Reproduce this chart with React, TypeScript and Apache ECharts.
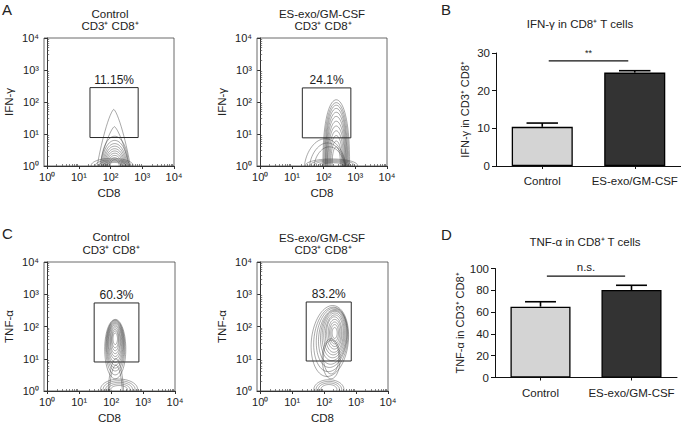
import React, { useEffect, useRef } from "react";
import * as echarts from "echarts";

// ---------- data ----------
const decadeTicks = [0, 1, 2, 3, 4];
const decadeLabels = ["10⁰", "10¹", "10²", "10³", "10⁴"];
const minorMultipliers = [2, 3, 4, 5, 6, 7, 8, 9];

const flowGroups = ["Control", "ES-exo/GM-CSF"];
const flowSubtitle = "CD3⁺ CD8⁺";
const flowXName = "CD8";
const ifnName = "IFN-γ";
const tnfName = "TNF-α";

// gates: [xmin, xmax, ymin, ymax] in log10 units
const ifnGates = [[1.35, 2.87, 0.89, 2.45], [1.33, 2.86, 0.88, 2.44]];
const ifnGateLabels = ["11.15%", "24.1%"];
const tnfGates = [[1.47, 2.87, 0.9, 2.73], [1.44, 2.85, 0.93, 2.76]];
const tnfGateLabels = ["60.3%", "83.2%"];

// contour lines: [cx, cy, rx, ry, xPow, yPow, shear] in log10 units
const ifnControlContours = [
  [2.10, 0, 0.52, 1.77, 1.4, 1.1, 0],
  [2.12, 0, 0.47, 1.23, 1.4, 1.1, 0],
  [2.13, 0, 0.43, 0.93, 2, 2, 0],
  [2.13, 0, 0.40, 0.80, 2, 2, 0],
  [2.13, 0, 0.37, 0.70, 2, 2, 0],
  [2.13, 0, 0.34, 0.62, 2, 2, 0],
  [2.13, 0, 0.31, 0.54, 2, 2, 0],
  [2.13, 0, 0.28, 0.47, 2, 2, 0],
  [2.13, 0, 0.25, 0.40, 2, 2, 0],
  [2.13, 0, 0.22, 0.33, 2, 2, 0],
  [2.13, 0, 0.18, 0.26, 2, 2, 0],
  [2.13, 0, 0.14, 0.20, 2, 2, 0],
  [2.05, 0.02, 0.66, 0.22, 2, 2, 0],
  [2.08, 0.02, 0.56, 0.18, 2, 2, 0],
  [2.10, 0.02, 0.46, 0.15, 2, 2, 0],
  [2.12, 0.02, 0.36, 0.12, 2, 2, 0],
  [2.12, 0.02, 0.26, 0.09, 2, 2, 0],
];
const ifnTreatedContours = [
  [2.40, 0, 0.42, 2.07, 2, 2.5, 0],
  [2.40, 0, 0.39, 1.98, 2, 2.5, 0],
  [2.40, 0, 0.36, 1.90, 2, 2.5, 0],
  [2.40, 0, 0.34, 1.80, 2, 2.5, 0],
  [2.40, 0, 0.32, 1.68, 2, 2.5, 0],
  [2.40, 0, 0.30, 1.55, 2, 2.5, 0],
  [2.40, 0, 0.28, 1.40, 2, 2.5, 0],
  [2.40, 0, 0.26, 1.25, 2, 2.5, 0],
  [2.40, 0, 0.23, 1.10, 2, 2.5, 0],
  [2.40, 0, 0.20, 0.95, 2, 2.5, 0],
  [2.40, 0, 0.17, 0.78, 2, 2.5, 0],
  [2.40, 0, 0.13, 0.60, 2, 2.5, 0],
  [2.05, 0, 0.65, 0.85, 2, 1.6, 0],
  [2.12, 0, 0.56, 0.72, 2, 1.6, 0],
  [2.18, 0, 0.48, 0.60, 2, 1.6, 0],
  [2.25, 0.02, 0.82, 0.20, 2, 2, 0],
  [2.27, 0.02, 0.70, 0.17, 2, 2, 0],
  [2.28, 0.02, 0.58, 0.14, 2, 2, 0],
  [2.30, 0.02, 0.46, 0.11, 2, 2, 0],
  [2.30, 0.02, 0.34, 0.08, 2, 2, 0],
];
const tnfControlContours = [
  [2.13, 1.30, 0.33, 0.92, 2, 2, 0],
  [2.13, 1.35, 0.30, 0.85, 2, 2, 0],
  [2.13, 1.40, 0.28, 0.78, 2, 2, 0],
  [2.13, 1.43, 0.26, 0.72, 2, 2, 0],
  [2.13, 1.46, 0.24, 0.66, 2, 2, 0],
  [2.13, 1.49, 0.22, 0.60, 2, 2, 0],
  [2.13, 1.52, 0.20, 0.53, 2, 2, 0],
  [2.13, 1.54, 0.17, 0.47, 2, 2, 0],
  [2.13, 1.56, 0.15, 0.40, 2, 2, 0],
  [2.13, 1.58, 0.12, 0.33, 2, 2, 0],
  [2.13, 1.60, 0.10, 0.26, 2, 2, 0],
  [2.13, 1.62, 0.07, 0.18, 2, 2, 0],
  [2.15, 0, 0.24, 1.00, 2, 1.5, 0],
  [2.15, 0, 0.20, 0.80, 2, 1.5, 0],
  [2.25, 0.05, 0.58, 0.32, 2, 2, 0],
  [2.25, 0.05, 0.50, 0.27, 2, 2, 0],
  [2.25, 0.05, 0.42, 0.22, 2, 2, 0],
  [2.25, 0.05, 0.34, 0.17, 2, 2, 0],
  [2.25, 0.05, 0.26, 0.12, 2, 2, 0],
];
const tnfTreatedContours = [
  [2.18, 1.55, 0.58, 1.10, 2, 2, 0.08],
  [2.21, 1.60, 0.53, 1.00, 2, 2, 0.08],
  [2.24, 1.65, 0.48, 0.92, 2, 2, 0.08],
  [2.27, 1.68, 0.44, 0.85, 2, 2, 0.08],
  [2.29, 1.72, 0.40, 0.78, 2, 2, 0.06],
  [2.30, 1.75, 0.36, 0.72, 2, 2, 0.05],
  [2.31, 1.77, 0.32, 0.65, 2, 2, 0.04],
  [2.32, 1.78, 0.28, 0.58, 2, 2, 0.03],
  [2.32, 1.80, 0.24, 0.50, 2, 2, 0],
  [2.33, 1.80, 0.20, 0.42, 2, 2, 0],
  [2.33, 1.80, 0.16, 0.34, 2, 2, 0],
  [2.33, 1.80, 0.12, 0.26, 2, 2, 0],
  [2.33, 1.80, 0.08, 0.17, 2, 2, 0],
  [2.22, 1.00, 0.28, 0.62, 2, 2, 0],
  [2.22, 1.05, 0.24, 0.52, 2, 2, 0],
  [2.15, 0.05, 0.47, 0.30, 2, 2, 0],
  [2.15, 0.05, 0.40, 0.25, 2, 2, 0],
  [2.15, 0.05, 0.33, 0.20, 2, 2, 0],
  [2.15, 0.05, 0.25, 0.15, 2, 2, 0],
];

const barCategories = ["Control", "ES-exo/GM-CSF"];
const ifnMeans = [10.4, 24.8];
const ifnErrTops = [11.4, 25.3];
const tnfMeans = [65, 80.3];
const tnfErrTops = [69.5, 84.6];
const ifnSig = [0, 1, 27.9];
const ifnSigLabel = "**";
const tnfSig = [0, 1, 93];
const tnfSigLabel = "n.s.";
const ifnBarTitle = "IFN-γ in CD8⁺ T cells";
const tnfBarTitle = "TNF-α in CD8⁺ T cells";
const ifnBarYName = "IFN-γ in CD3⁺ CD8⁺";
const tnfBarYName = "TNF-α in CD3⁺ CD8⁺";
const panelLetters = ["A", "B", "C", "D"];

// ---------- styling / layout ----------
const FONT = '"Liberation Sans", Arial, Helvetica, sans-serif';
const TXT = "#222";
const barFills = ["#d4d4d4", "#333333"];

const grids = [
  { left: 44, top: 38, width: 130, height: 128 },
  { left: 257, top: 38, width: 130, height: 128 },
  { left: 44, top: 262, width: 131, height: 131 },
  { left: 257, top: 262, width: 131, height: 131 },
  { left: 496, top: 53, width: 185, height: 113 },
  { left: 495, top: 268.5, width: 182, height: 109 },
];

const minorTickValues = decadeTicks
  .slice(0, 4)
  .flatMap((k) => minorMultipliers.map((m) => k + Math.log10(m)));

function contourRender(params: any, api: any) {
  const cx = api.value(0), cy = api.value(1), rx = api.value(2), ry = api.value(3);
  const mp = api.value(4), qp = api.value(5), sh = api.value(6);
  const pts: number[][] = [];
  const N = 72;
  for (let i = 0; i <= N; i++) {
    const t = (2 * Math.PI * i) / N;
    const c = Math.cos(t), s = Math.sin(t);
    const dy = ry * Math.sign(s) * Math.pow(Math.abs(s), 2 / qp);
    const dx = rx * Math.sign(c) * Math.pow(Math.abs(c), 2 / mp) + sh * dy;
    pts.push(api.coord([cx + dx, cy + dy]));
  }
  return {
    type: "polyline",
    shape: { points: pts },
    style: { fill: "none", stroke: "rgba(60,60,60,0.68)", lineWidth: 0.65 },
  };
}

function buildOption() {
  const flowPanels = [
    { grid: 0, yName: ifnName, contours: ifnControlContours, gate: ifnGates[0], gateLabel: ifnGateLabels[0] },
    { grid: 1, yName: ifnName, contours: ifnTreatedContours, gate: ifnGates[1], gateLabel: ifnGateLabels[1] },
    { grid: 2, yName: tnfName, contours: tnfControlContours, gate: tnfGates[0], gateLabel: tnfGateLabels[0] },
    { grid: 3, yName: tnfName, contours: tnfTreatedContours, gate: tnfGates[1], gateLabel: tnfGateLabels[1] },
  ];

  const xAxis: any[] = [];
  const yAxis: any[] = [];
  const series: any[] = [];

  flowPanels.forEach((p) => {
    const label = {
      customValues: decadeTicks,
      formatter: (v: number) => decadeLabels[Math.round(v)],
      fontSize: 11,
      color: TXT,
      fontFamily: FONT,
    };
    xAxis.push({
      type: "value", gridIndex: p.grid, min: -0.1, max: 4,
      axisLine: { show: true, lineStyle: { color: "#333", width: 1 } },
      axisTick: { show: true, customValues: decadeTicks, length: 3, lineStyle: { color: "#333" } },
      axisLabel: { ...label, margin: 5 },
      splitLine: { show: false },
      name: flowXName, nameLocation: "middle", nameGap: 21,
      nameTextStyle: { fontSize: 11.5, color: TXT, fontFamily: FONT },
    });
    xAxis.push({
      type: "value", gridIndex: p.grid, min: -0.1, max: 4,
      axisLine: { show: false },
      axisTick: { show: true, customValues: minorTickValues, length: 2, lineStyle: { color: "#555", width: 0.7 } },
      axisLabel: { show: false },
      splitLine: { show: false },
    });
    yAxis.push({
      type: "value", gridIndex: p.grid, min: 0, max: 4,
      axisLine: { show: true, lineStyle: { color: "#333", width: 1 } },
      axisTick: { show: true, customValues: decadeTicks, length: 3, lineStyle: { color: "#333" } },
      axisLabel: { ...label, margin: 5 },
      splitLine: { show: false },
      name: p.yName, nameLocation: "middle", nameGap: 29,
      nameTextStyle: { fontSize: 11.5, color: TXT, fontFamily: FONT },
    });
    yAxis.push({
      type: "value", gridIndex: p.grid, min: 0, max: 4,
      axisLine: { show: false },
      axisTick: { show: true, customValues: minorTickValues, length: 2, lineStyle: { color: "#555", width: 0.7 } },
      axisLabel: { show: false },
      splitLine: { show: false },
    });
    const ai = p.grid * 2;
    series.push({
      type: "custom", xAxisIndex: ai, yAxisIndex: ai, clip: true, silent: true,
      encode: { x: 0, y: 1 },
      data: p.contours,
      renderItem: contourRender,
      z: 2,
    });
    const gl = p.gateLabel;
    series.push({
      type: "custom", xAxisIndex: ai, yAxisIndex: ai, silent: true,
      encode: { x: [0, 1], y: [2, 3] },
      data: [p.gate],
      z: 3,
      renderItem: (params: any, api: any) => {
        const tl = api.coord([api.value(0), api.value(3)]);
        const br = api.coord([api.value(1), api.value(2)]);
        return {
          type: "group",
          children: [
            {
              type: "rect",
              shape: { x: tl[0], y: tl[1], width: br[0] - tl[0], height: br[1] - tl[1] },
              style: { fill: "none", stroke: "#2a2a2a", lineWidth: 1 },
            },
            {
              type: "text",
              x: (tl[0] + br[0]) / 2,
              y: tl[1] - 2,
              style: {
                text: gl, fill: TXT, font: `12px ${FONT}`,
                align: "center", verticalAlign: "bottom",
                textAlign: "center", textVerticalAlign: "bottom",
              },
            },
          ],
        };
      },
    });
  });

  const barPanels = [
    { grid: 4, means: ifnMeans, errs: ifnErrTops, max: 30, interval: 10, yName: ifnBarYName, sig: ifnSig, sigLabel: ifnSigLabel, sigSize: 9 },
    { grid: 5, means: tnfMeans, errs: tnfErrTops, max: 100, interval: 20, yName: tnfBarYName, sig: tnfSig, sigLabel: tnfSigLabel, sigSize: 11.5 },
  ];

  barPanels.forEach((b, k) => {
    const ai = 8 + k;
    xAxis.push({
      type: "category", gridIndex: b.grid, data: barCategories,
      axisLine: { show: true, lineStyle: { color: "#111", width: 1 } },
      axisTick: { show: true, alignWithLabel: true, length: 3, lineStyle: { color: "#111" } },
      axisLabel: { interval: 0, hideOverlap: false, fontSize: 11.5, color: TXT, fontFamily: FONT, margin: 9 },
      splitLine: { show: false },
    });
    yAxis.push({
      type: "value", gridIndex: b.grid, min: 0, max: b.max, interval: b.interval,
      axisLine: { show: true, lineStyle: { color: "#111", width: 1 } },
      axisTick: { show: true, length: 4, lineStyle: { color: "#111" } },
      axisLabel: { fontSize: 11.5, color: TXT, fontFamily: FONT, margin: 6 },
      splitLine: { show: false },
      name: b.yName, nameLocation: "middle", nameGap: 26,
      nameTextStyle: { fontSize: 11, color: TXT, fontFamily: FONT },
    });
    series.push({
      type: "bar", xAxisIndex: ai, yAxisIndex: ai, barWidth: "66%", silent: true,
      data: b.means.map((v, i) => ({ value: v, itemStyle: { color: barFills[i] } })),
      itemStyle: { borderColor: "#000", borderWidth: 1.3 },
      z: 2,
    });
    series.push({
      type: "custom", xAxisIndex: ai, yAxisIndex: ai, silent: true,
      encode: { x: 0, y: 2 },
      data: b.means.map((v, i) => [i, v, b.errs[i]]),
      z: 4,
      renderItem: (params: any, api: any) => {
        const base = api.coord([api.value(0), api.value(1)]);
        const top = api.coord([api.value(0), api.value(2)]);
        const bw = api.size([1, 0])[0];
        const hw = bw * 0.17;
        return {
          type: "group",
          children: [
            { type: "line", shape: { x1: base[0], y1: base[1], x2: base[0], y2: top[1] }, style: { stroke: "#000", lineWidth: 1.6 } },
            { type: "line", shape: { x1: base[0] - hw, y1: top[1], x2: base[0] + hw, y2: top[1] }, style: { stroke: "#000", lineWidth: 1.6 } },
          ],
        };
      },
    });
    const sl = b.sigLabel, ss = b.sigSize;
    series.push({
      type: "custom", xAxisIndex: ai, yAxisIndex: ai, silent: true,
      encode: { x: 0, y: 2 },
      data: [b.sig],
      z: 4,
      renderItem: (params: any, api: any) => {
        const p0 = api.coord([api.value(0), api.value(2)]);
        const p1 = api.coord([api.value(1), api.value(2)]);
        const bw = api.size([1, 0])[0];
        const x0 = p0[0] + bw * 0.07, x1 = p1[0] - bw * 0.07;
        return {
          type: "group",
          children: [
            { type: "line", shape: { x1: x0, y1: p0[1], x2: x1, y2: p0[1] }, style: { stroke: "#111", lineWidth: 1.1 } },
            {
              type: "text", x: (x0 + x1) / 2, y: p0[1] - 3,
              style: {
                text: sl, fill: TXT, font: `${ss}px ${FONT}`,
                align: "center", verticalAlign: "bottom",
                textAlign: "center", textVerticalAlign: "bottom",
              },
            },
          ],
        };
      },
    });
  });

  const t = (text: string, x: number, y: number, size: number, align = "center") => ({
    type: "text", x, y, silent: true,
    style: {
      text, fill: TXT, font: `${size}px ${FONT}`,
      align, verticalAlign: "middle", textAlign: align, textVerticalAlign: "middle",
    },
  });

  const graphic = [
    t(panelLetters[0], 2, 9, 15, "left"),
    t(panelLetters[1], 441, 9, 15, "left"),
    t(panelLetters[2], 2, 233, 15, "left"),
    t(panelLetters[3], 441, 234, 15, "left"),
    t(flowGroups[0], 110, 14, 11.5),
    t(flowSubtitle, 110, 26, 11.5),
    t(flowGroups[1], 322, 14, 11.5),
    t(flowSubtitle, 323, 26, 11.5),
    t(flowGroups[0], 111, 237, 11.5),
    t(flowSubtitle, 111, 250, 11.5),
    t(flowGroups[1], 322, 238, 11.5),
    t(flowSubtitle, 323, 250, 11.5),
    t(ifnBarTitle, 580, 24, 11.5),
    t(tnfBarTitle, 585, 242, 11.5),
  ];

  return {
    animation: false,
    backgroundColor: "#fff",
    textStyle: { fontFamily: FONT },
    grid: grids.map((g, i) => ({
      ...g,
      show: i < 4,
      borderColor: "#444",
      borderWidth: 0.8,
      backgroundColor: "transparent",
      containLabel: false,
    })),
    xAxis,
    yAxis,
    series,
    graphic,
  };
}

export default function App() {
  const ref = useRef<HTMLDivElement>(null);
  useEffect(() => {
    const chart = echarts.init(ref.current!, null, { renderer: "svg" });
    chart.setOption(buildOption() as any);
    return () => chart.dispose();
  }, []);
  return (
    <div
      ref={ref}
      style={{ position: "absolute", left: 0, top: 0, width: 681, height: 425, background: "#fff" }}
    />
  );
}
